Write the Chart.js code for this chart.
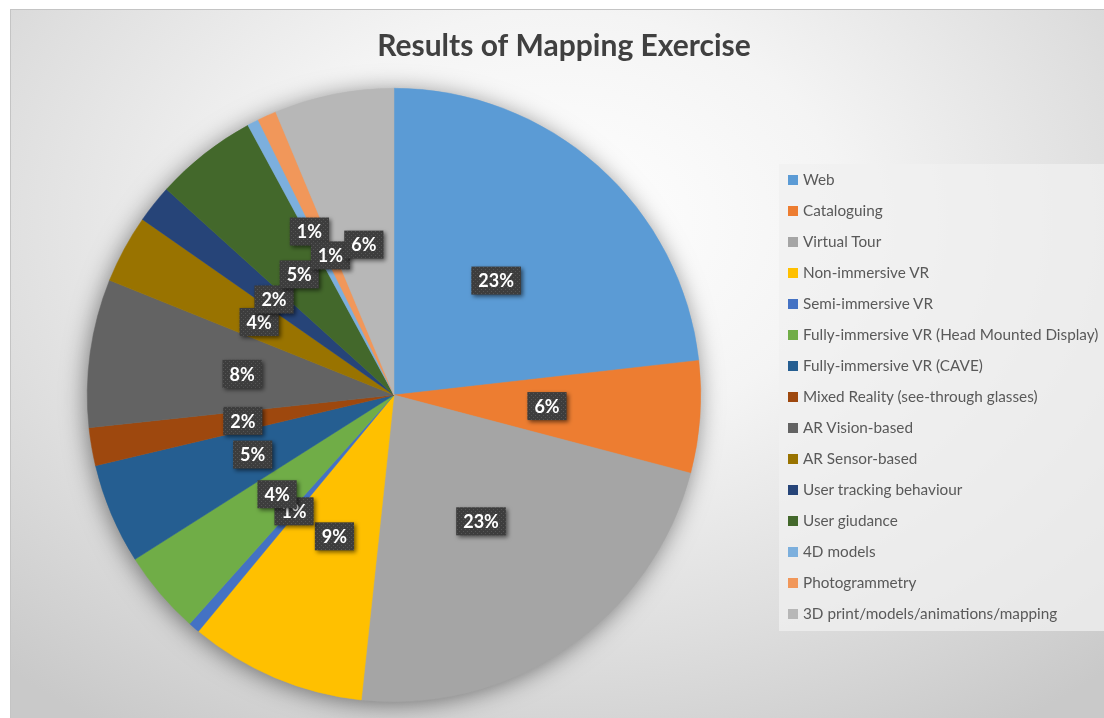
<!DOCTYPE html>
<html>
<head>
<meta charset="utf-8">
<script src="https://cdn.jsdelivr.net/npm/chart.js@4"></script>
<style>
  html, body { margin: 0; padding: 0; background: #fff; }
  body { width: 1104px; height: 718px; position: relative; overflow: hidden; font-family: Lato, "Open Sans", sans-serif; }
  #frame {
    position: absolute; left: 10px; top: 9px; width: 1094px; height: 709px;
    border-top: 1px solid #c4c4c4; border-left: 1px solid #c4c4c4;
    background: radial-gradient(ellipse 75% 85% at 50% 30%, #ffffff 0%, #f4f4f4 35%, #dedede 70%, #c9c9c9 100%);
  }
  #chartBox { position: absolute; left: -10px; top: -9px; width: 1104px; height: 718px; }
  #legend {
    position: absolute; left: 768px; top: 154px; width: 330px; height: 467px;
    background: rgba(240, 240, 240, 0.75);
    margin: 0; padding: 0; list-style: none;
  }
  #legend li { height: 31px; line-height: 31px; font-size: 15.3px; color: #595959; white-space: nowrap; }
  #legend span.box { display: inline-block; width: 10px; height: 10px; margin: 0 5px 0 9px; }
</style>
</head>
<body>
<div id="frame">
  <div id="chartBox"><canvas id="mappingChart" width="1104" height="718"></canvas></div>
  <ul id="legend"></ul>
</div>
<script>
// categories and their share of the mapping results (%)
const categories = [
    'Web', 'Cataloguing', 'Virtual Tour', 'Non-immersive VR', 'Semi-immersive VR',
    'Fully-immersive VR (Head Mounted Display)', 'Fully-immersive VR (CAVE)',
    'Mixed Reality (see-through glasses)', 'AR Vision-based', 'AR Sensor-based',
    'User tracking behaviour', 'User giudance', '4D models', 'Photogrammetry',
    '3D print/models/animations/mapping'
];
const shares = [23.2, 5.9, 22.6, 9.3, 0.6, 4.4, 5.3, 2.0, 7.8, 3.6, 2.0, 5.4, 0.6, 1.0, 6.3];
const colours = [
    '#5B9BD5', '#ED7D31', '#A5A5A5', '#FFC000', '#4472C4', '#70AD47', '#255E91',
    '#9E480E', '#636363', '#997300', '#264478', '#43682B', '#7CAFDD', '#F1975A', '#B7B7B7'
];
const chartTitle = 'Results of Mapping Exercise';

// dotted dark fill used behind the data labels
function makeLabelPattern(ctx) {
    const p = document.createElement('canvas');
    p.width = 4; p.height = 4;
    const pc = p.getContext('2d');
    pc.fillStyle = '#3d3d3d';
    pc.fillRect(0, 0, 4, 4);
    pc.fillStyle = '#555555';
    pc.fillRect(0, 0, 1, 1);
    pc.fillRect(2, 2, 1, 1);
    return ctx.createPattern(p, 'repeat');
}

// title centred over the whole frame (the chart area is only the pie)
const frameTitle = {
    id: 'frameTitle',
    afterDraw(chart) {
        const ctx = chart.ctx;
        ctx.save();
        ctx.font = 'bold 30px Lato';
        ctx.fillStyle = '#404040';
        ctx.textAlign = 'center';
        ctx.textBaseline = 'middle';
        ctx.fillText(chartTitle, 563, 45);
        ctx.restore();
    }
};

// soft shadow under the whole pie
const pieShadow = {
    id: 'pieShadow',
    beforeDatasetsDraw(chart) {
        const arc = chart.getDatasetMeta(0).data[0];
        if (!arc) return;
        const ctx = chart.ctx;
        ctx.save();
        ctx.shadowColor = 'rgba(0,0,0,0.5)';
        ctx.shadowBlur = 24;
        ctx.shadowOffsetX = -2;
        ctx.shadowOffsetY = 3;
        ctx.beginPath();
        ctx.arc(arc.x, arc.y, arc.outerRadius - 1, 0, Math.PI * 2);
        ctx.fillStyle = '#b0b0b0';
        ctx.fill();
        ctx.restore();
    }
};

// percentage labels in dark boxes
const radiusFactor = { 12: 0.6 };
const pctLabels = {
    id: 'pctLabels',
    afterDatasetsDraw(chart) {
        const ctx = chart.ctx;
        const meta = chart.getDatasetMeta(0);
        const data = chart.data.datasets[0].data;
        const total = data.reduce((a, b) => a + b, 0);
        const pattern = makeLabelPattern(ctx);
        ctx.save();
        ctx.font = 'bold 18px Lato';
        ctx.textAlign = 'center';
        ctx.textBaseline = 'middle';
        meta.data.forEach((arc, i) => {
            const txt = Math.round(data[i] / total * 100) + '%';
            let pos = arc.tooltipPosition();
            if (radiusFactor[i]) {
                const mid = (arc.startAngle + arc.endAngle) / 2;
                const r = arc.outerRadius * radiusFactor[i];
                pos = { x: arc.x + Math.cos(mid) * r, y: arc.y + Math.sin(mid) * r };
            }
            const w = ctx.measureText(txt).width + 14;
            const h = 28;
            ctx.save();
            ctx.shadowColor = 'rgba(0,0,0,0.55)';
            ctx.shadowBlur = 4;
            ctx.shadowOffsetX = 2;
            ctx.shadowOffsetY = 2;
            ctx.fillStyle = pattern;
            ctx.fillRect(pos.x - w / 2, pos.y - h / 2, w, h);
            ctx.restore();
            ctx.fillStyle = '#ffffff';
            ctx.fillText(txt, pos.x, pos.y + 1);
        });
        ctx.restore();
    }
};

const ctx = document.getElementById('mappingChart').getContext('2d');
const mappingChart = new Chart(ctx, {
    type: 'pie',
    data: {
        labels: categories,
        datasets: [{
            data: shares,
            backgroundColor: colours,
            borderColor: colours,
            borderWidth: 0.5
        }]
    },
    options: {
        responsive: false,
        animation: false,
        layout: { padding: { left: 86, right: 404, top: 87, bottom: 17 } },
        plugins: {
            legend: { display: false },
            tooltip: { enabled: false },
            title: { display: false }
        }
    },
    plugins: [pieShadow, pctLabels, frameTitle]
});

// legend built from the same arrays
const legendList = document.getElementById('legend');
categories.forEach((name, i) => {
    const li = document.createElement('li');
    li.innerHTML = `<span class="box" style="background:${colours[i]}"></span>${name}`;
    legendList.appendChild(li);
});
</script>
</body>
</html>
